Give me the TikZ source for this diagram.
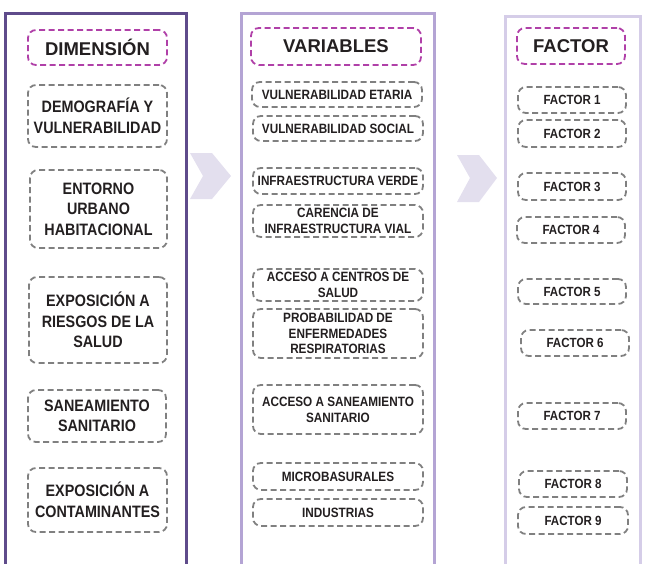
\documentclass[tikz,border=0pt]{standalone}
\usepackage{fontspec}
\setmainfont{Liberation Sans}
\newfontfamily\condfont{Liberation Sans}[FakeStretch=0.87]
\definecolor{txt}{RGB}{35,31,32}
\definecolor{dgrey}{RGB}{128,128,128}
\definecolor{mag}{RGB}{176,64,168}
\definecolor{colA}{RGB}{95,75,139}
\definecolor{colB}{RGB}{180,164,212}
\definecolor{colC}{RGB}{213,205,232}
\definecolor{chev}{RGB}{227,223,238}
\newcommand{\mybox}[7]{%
  \node[#6, minimum width={#4-#2}, minimum height={#5-#3}] (#1) at ({(#2+#4)/2},{(#3+#5)/2}) {#7};}
\begin{document}
\begin{tikzpicture}[x=1pt,y=-1pt,
  basebox/.style={draw, dashed, dash pattern=on 6pt off 3.5pt, line width=1.8pt, rounded corners=8pt,
    inner sep=0pt, align=center, text=txt},
  headbox/.style={basebox, draw=mag, font=\bfseries\fontsize{18.5}{22}\selectfont},
  leftbox/.style={basebox, draw=dgrey, font=\condfont\bfseries\fontsize{16.5}{20.5}\selectfont},
  midbox/.style={basebox, draw=dgrey, font=\condfont\bfseries\fontsize{13.5}{15.8}\selectfont},
  facbox/.style={basebox, draw=dgrey, font=\condfont\bfseries\fontsize{13.3}{14}\selectfont},
  colframe/.style={line width=3pt}]
\useasboundingbox (0,0) rectangle (645,563);
% column frames (open at the bottom)
\draw[colframe, draw=colA] (5,566) -- (5,13) -- (186,13) -- (186,566);
\draw[colframe, draw=colB] (241,566) -- (241,13) -- (434,13) -- (434,566);
\draw[colframe, draw=colC] (505,566) -- (505,16) -- (640,16) -- (640,566);
% chevrons
\fill[chev] (190,153) -- (212,153) -- (231,176) -- (212,199) -- (190,199) -- (203,176) -- cycle;
\fill[chev] (457,155) -- (479,155) -- (497,178) -- (479,202) -- (457,202) -- (470,178) -- cycle;
% left column
\mybox{dimH}{28}{30}{167}{65}{headbox}{DIMENSIÓN}
\mybox{d1}{28}{85}{167}{147}{leftbox}{DEMOGRAFÍA Y\\VULNERABILIDAD}
\mybox{d2}{30}{170}{167}{248}{leftbox}{ENTORNO\\URBANO\\HABITACIONAL}
\mybox{d3}{29}{277}{167}{363}{leftbox}{EXPOSICIÓN A\\RIESGOS DE LA\\SALUD}
\mybox{d4}{28}{390}{166}{442}{leftbox}{SANEAMIENTO\\SANITARIO}
\mybox{d5}{28}{468}{167}{532}{leftbox}{EXPOSICIÓN A\\CONTAMINANTES}
% middle column
\mybox{varH}{251}{28}{421}{65}{headbox}{VARIABLES}
\mybox{v1}{252}{82}{422}{107}{midbox}{VULNERABILIDAD ETARIA}
\mybox{v2}{253}{116}{423}{141}{midbox}{VULNERABILIDAD SOCIAL}
\mybox{v3}{253}{168}{423}{194}{midbox}{INFRAESTRUCTURA VERDE}
\mybox{v4}{253}{205}{423}{237}{midbox}{CARENCIA DE\\INFRAESTRUCTURA VIAL}
\mybox{v5}{253}{269}{423}{301}{midbox}{ACCESO A CENTROS DE\\SALUD}
\mybox{v6}{253}{309}{423}{358}{midbox}{PROBABILIDAD DE\\ENFERMEDADES\\RESPIRATORIAS}
\mybox{v7}{253}{385}{423}{434}{midbox}{ACCESO A SANEAMIENTO\\SANITARIO}
\mybox{v8}{253}{463}{423}{490}{midbox}{MICROBASURALES}
\mybox{v9}{253}{499}{423}{526}{midbox}{INDUSTRIAS}
% right column
\mybox{facH}{517}{28}{625}{64}{headbox}{FACTOR}
\mybox{f1}{518}{87}{626}{113}{facbox}{FACTOR 1}
\mybox{f2}{518}{120}{626}{147}{facbox}{FACTOR 2}
\mybox{f3}{518}{173}{626}{200}{facbox}{FACTOR 3}
\mybox{f4}{517}{217}{625}{243}{facbox}{FACTOR 4}
\mybox{f5}{518}{279}{626}{304}{facbox}{FACTOR 5}
\mybox{f6}{521}{330}{629}{356}{facbox}{FACTOR 6}
\mybox{f7}{518}{403}{626}{429}{facbox}{FACTOR 7}
\mybox{f8}{519}{471}{627}{497}{facbox}{FACTOR 8}
\mybox{f9}{518}{507}{628}{534}{facbox}{FACTOR 9}
\end{tikzpicture}
\end{document}
